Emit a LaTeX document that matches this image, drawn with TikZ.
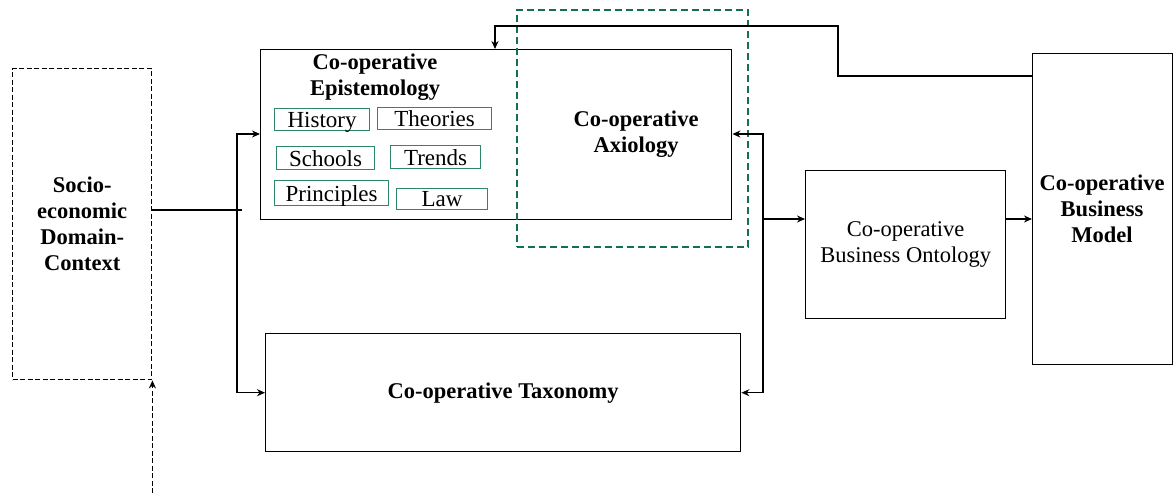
\documentclass[tikz,border=0pt]{standalone}
\usepackage{fontspec}
\setmainfont{Liberation Serif}
\usetikzlibrary{arrows.meta}
\definecolor{tagGreen}{RGB}{45,135,105}
\definecolor{axGreen}{RGB}{20,110,80}
\begin{document}
\begin{tikzpicture}[x=1pt,y=-1pt,>={Stealth[length=8pt,width=7pt]}, line width=1.4pt,
    font=\fontsize{22.5}{26}\selectfont, line join=miter,
    box/.style={draw, anchor=north west, inner sep=0pt, align=center},
    tag/.style={draw=tagGreen, line width=1.2pt, anchor=north west, inner sep=0pt,
        text depth=0pt, font=\fontsize{23}{26}\selectfont},
    dashline/.style={dash pattern=on 5pt off 2.5pt},
    bold/.style={font=\fontsize{22.5}{26}\selectfont\bfseries, align=center}]
    \useasboundingbox (0,0) rectangle (1173,493);
    % boxes
    \node[box, dashline, minimum width=139, minimum height=311, bold] (soc) at (12,68)
        {Socio-\\economic\\Domain-\\Context};
    \node[box, minimum width=471, minimum height=170] (epi) at (260,49) {};
    \node[box, draw=axGreen, line width=2pt, dash pattern=on 7pt off 4pt,
        minimum width=231, minimum height=237] (axi) at (516,9) {};
    \node[box, minimum width=475, minimum height=118, bold] (tax) at (265,333) {Co-operative Taxonomy};
    \node[box, minimum width=200, minimum height=148] (ont) at (805,170) {Co-operative\\Business Ontology};
    \node[box, minimum width=140, minimum height=311] (bm) at (1032,53) {};
    \node[bold] (bmtext) at (1102,209) {Co-operative\\Business\\Model};
    % texts inside the big box
    \node[bold] (epitext) at (375,77) {Co-operative\\Epistemology};
    \node[bold] (axitext) at (636,134) {Co-operative\\Axiology};
    % green tags
    \node[tag, minimum width=95, minimum height=22] (hist) at (274,108) {History};
    \node[tag, minimum width=114, minimum height=22] (theo) at (377,107) {Theories};
    \node[tag, minimum width=98, minimum height=23] (scho) at (276,146) {Schools};
    \node[tag, minimum width=90, minimum height=23] (tren) at (390,145) {Trends};
    \node[tag, minimum width=114, minimum height=25] (prin) at (274,180) {Principles};
    \node[tag, minimum width=91, minimum height=21] (law) at (396,188) {Law};
    % connectors
    \coordinate (jl) at (237,134);
    \coordinate (jr) at (763,134);
    \coordinate (mid) at (763,219);
    \coordinate (fb) at (495,26);
    \draw (soc.east |- 0,210) -- (242,210);
    \draw[<->] (epi.west |- jl) -- (jl) -- (jl |- tax.west) -- (tax.west);
    \draw[<->] (epi.east |- jr) -- (jr) -- (jr |- tax.east) -- (tax.east);
    \draw[->] (mid) -- (ont.west |- mid);
    \draw[->] (ont.east |- mid) -- (bm.west |- mid);
    \draw[->] (bm.west |- 0,76) -- (838,76) -- (838,26) -- (fb) -- (epi.north -| fb);
    \draw[dashline,->] (soc.south east |- 0,493) -- (soc.south east);
    \draw[dashline] (bm.south east) -- (bm.south east |- 0,493);
\end{tikzpicture}
\end{document}
